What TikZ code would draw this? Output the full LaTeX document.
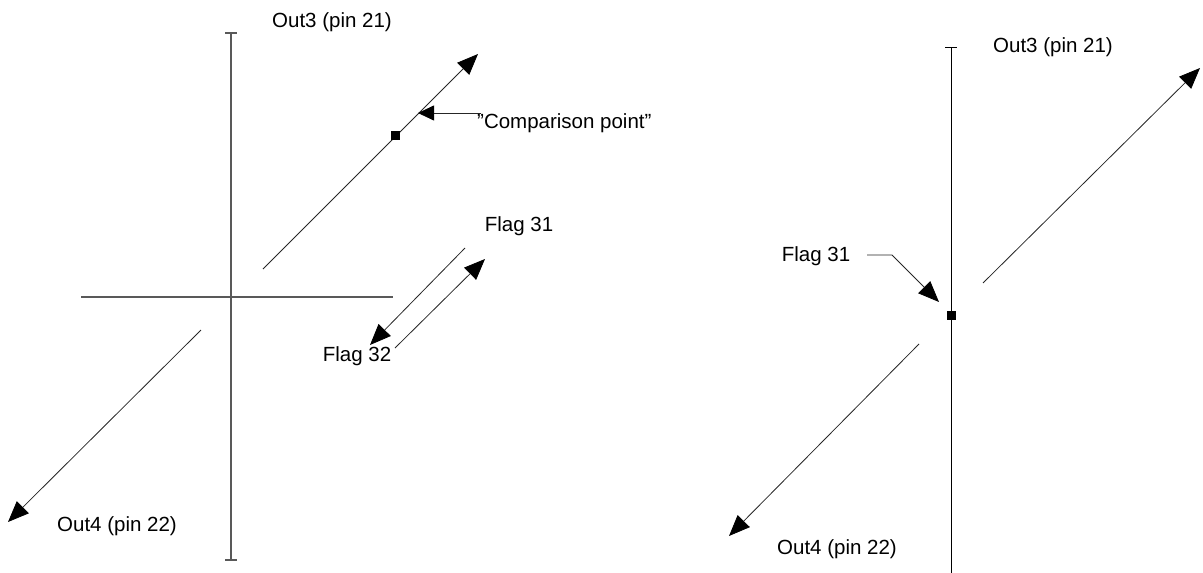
\documentclass[tikz,border=0pt]{standalone}
\usepackage{fontspec}
\setmainfont{Liberation Sans}
\usetikzlibrary{arrows.meta}
\begin{document}
\begin{tikzpicture}[x=1pt,y=-1pt,
  lbl/.style={inner sep=0pt,font=\fontsize{20.5}{24}\selectfont},
  axis/.style={draw=black!65,line width=1.4pt},
  axisr/.style={draw=black,line width=1pt},
  diag/.style={draw=black!85,line width=0.8pt},
  arr/.style={diag,-{Triangle[length=21pt,width=17pt,color=black]}},
  sarr/.style={diag,-{Triangle[length=16pt,width=15pt,color=black]}},
  dot/.style={fill=black,minimum size=9pt,inner sep=0pt,draw=none}]
\useasboundingbox (0,0) rectangle (1203,573);
% ---------- left figure ----------
\coordinate (LvT) at (231,33);
\coordinate (LvB) at (231,560);
\coordinate (LhL) at (81,297);
\coordinate (LhR) at (393,297);
\draw[axis] (LvT) -- (LvB);
\draw[axis] (LhL) -- (LhR);
\draw[axis] ([xshift=-6pt]LvT) -- ([xshift=6pt]LvT);
\draw[axis] ([xshift=-6pt]LvB) -- ([xshift=6pt]LvB);
\coordinate (LuS) at (263,269);
\coordinate (LuE) at (478,54);
\draw[arr] (LuS) -- (LuE);
\coordinate (LdS) at (201,330);
\coordinate (LdE) at (8,522);
\draw[arr] (LdS) -- (LdE);
\node[dot] (Lsq) at (395,135) {};
\coordinate (CpS) at (481,113);
\coordinate (CpE) at (418,113);
\draw[sarr] (CpS) -- (CpE);
\node[lbl,anchor=west] (cmp) at (477,123) {”Comparison point”};
\node[lbl] (Lout3) at (332,22) {Out3 (pin 21)};
\node[lbl] (Lout4) at (117,526) {Out4 (pin 22)};
\node[lbl] (Lf31) at (519,226) {Flag 31};
\node[lbl] (Lf32) at (357,356) {Flag 32};
\coordinate (F1S) at (465,248);
\coordinate (F1E) at (370,345);
\draw[arr] (F1S) -- (F1E);
\coordinate (F2S) at (395,348);
\coordinate (F2E) at (485,259);
\draw[arr] (F2S) -- (F2E);
% ---------- right figure ----------
\coordinate (RvT) at (951,47);
\coordinate (RvB) at (951,573);
\draw[axisr] (RvT) -- (RvB);
\draw[axisr] ([xshift=-6pt]RvT) -- ([xshift=6pt]RvT);
\coordinate (RuS) at (983,283);
\coordinate (RuE) at (1200,68);
\draw[arr] (RuS) -- (RuE);
\coordinate (RdS) at (919,344);
\coordinate (RdE) at (729,536);
\draw[arr] (RdS) -- (RdE);
\node[dot] (Rsq) at (951,315) {};
\node[lbl] (Rout3) at (1053,47) {Out3 (pin 21)};
\node[lbl] (Rout4) at (837,549) {Out4 (pin 22)};
\node[lbl] (Rf31) at (816,256) {Flag 31};
\coordinate (RfA) at (867,255);
\coordinate (RfB) at (892,255);
\coordinate (RfE) at (939,302);
\draw[arr] (RfA) -- (RfB) -- (RfE);
\end{tikzpicture}
\end{document}
